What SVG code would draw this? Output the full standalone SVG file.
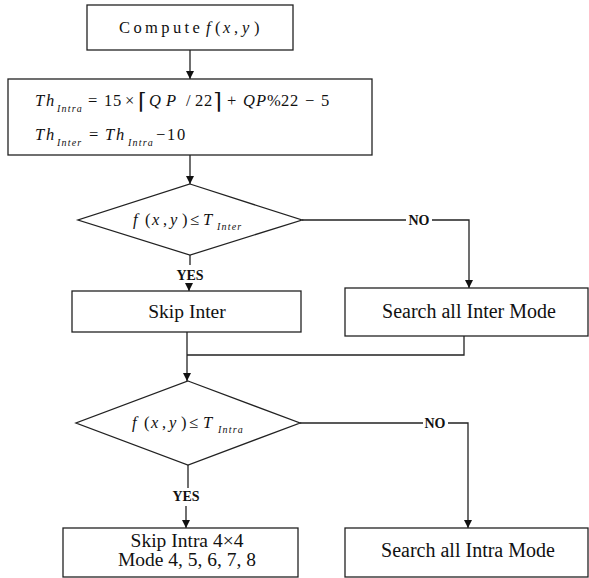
<svg xmlns="http://www.w3.org/2000/svg" width="589" height="578" viewBox="0 0 589 578">
<defs>
<marker id="ah" viewBox="0 0 10 10" refX="10" refY="5" markerWidth="8" markerHeight="8" markerUnits="userSpaceOnUse" orient="auto">
<path d="M0,0 L10,5 L0,10 z" fill="#111"/>
</marker>
<style>
.box{fill:#fff;stroke:#222;stroke-width:1.3}
.ln{fill:none;stroke:#222;stroke-width:1.3}
.t{font-family:"Liberation Serif","Times New Roman",serif;fill:#111}
.r{font-size:20px}
.r19{font-size:19.5px}
.m{font-size:16.5px;font-style:italic}
.mr{font-size:16.5px;font-style:normal}
.sub{font-size:10px;font-style:italic;letter-spacing:1.2px}
.lbl{font-size:14px;font-weight:bold}
.br{font-family:"DejaVu Serif",serif;font-size:22px;font-style:normal;font-weight:100}
</style>
</defs>
<rect width="589" height="578" fill="#fff"/>
<g id="connectors">
<line class="ln" x1="190" y1="50" x2="190" y2="79" marker-end="url(#ah)"/>
<line class="ln" x1="190" y1="155" x2="190" y2="184" marker-end="url(#ah)"/>
<line class="ln" x1="190" y1="255" x2="190" y2="265"/>
<line class="ln" x1="189" y1="283" x2="189" y2="291" marker-end="url(#ah)"/>
<polyline class="ln" points="302,220 406,220"/>
<polyline class="ln" points="432,220 469,220 469,288" marker-end="url(#ah)"/>
<line class="ln" x1="187" y1="332" x2="187" y2="355"/>
<polyline class="ln" points="464,336 464,355 187,355"/>
<line class="ln" x1="187" y1="355" x2="187" y2="381" marker-end="url(#ah)"/>
<line class="ln" x1="188" y1="465" x2="188" y2="488"/>
<line class="ln" x1="186" y1="506" x2="186" y2="528" marker-end="url(#ah)"/>
<polyline class="ln" points="300,423 423,423"/>
<polyline class="ln" points="448,423 468,423 468,528" marker-end="url(#ah)"/>
<text class="t lbl" x="419" y="225" text-anchor="middle">NO</text>
<text class="t lbl" x="435" y="428" text-anchor="middle">NO</text>
<text class="t lbl" x="190" y="280" text-anchor="middle">YES</text>
<text class="t lbl" x="186" y="501" text-anchor="middle">YES</text>
</g>
<g id="compute">
<rect class="box" x="87" y="5" width="206" height="45"/>
<text class="t" y="33"><tspan class="mr" x="119" letter-spacing="3.4" font-size="17">Compute</tspan><tspan class="m" x="206">f</tspan><tspan class="mr" x="215">(</tspan><tspan class="m" x="223">x</tspan><tspan class="mr" x="234">,</tspan><tspan class="m" x="242">y</tspan><tspan class="mr" x="254">)</tspan></text>
</g>
<g id="threshold">
<rect class="box" x="8" y="79" width="364" height="76"/>
<text class="t" y="106"><tspan class="m" x="35">T</tspan><tspan class="m" x="46">h</tspan><tspan class="sub" x="57" y="112">Intra</tspan><tspan class="mr" x="88" y="106">=</tspan><tspan class="mr" x="104">1</tspan><tspan class="mr" x="113">5</tspan><tspan class="mr" x="125">×</tspan><tspan class="br" x="138" y="109">⌈</tspan><tspan class="m" x="149" y="106">Q</tspan><tspan class="m" x="166">P</tspan><tspan class="mr" x="186">/</tspan><tspan class="mr" x="195">2</tspan><tspan class="mr" x="204">2</tspan><tspan class="br" x="213" y="109">⌉</tspan><tspan class="mr" x="227" y="106">+</tspan><tspan class="m" x="243">Q</tspan><tspan class="m" x="256">P</tspan><tspan class="mr" x="267">%</tspan><tspan class="mr" x="281">2</tspan><tspan class="mr" x="290">2</tspan><tspan class="mr" x="305">−</tspan><tspan class="mr" x="321">5</tspan></text>
<text class="t" y="140"><tspan class="m" x="35">T</tspan><tspan class="m" x="46">h</tspan><tspan class="sub" x="57" y="146">Inter</tspan><tspan class="mr" x="89" y="140">=</tspan><tspan class="m" x="105">T</tspan><tspan class="m" x="116">h</tspan><tspan class="sub" x="128" y="146">Intra</tspan><tspan class="mr" x="156" y="140">−</tspan><tspan class="mr" x="167">1</tspan><tspan class="mr" x="177">0</tspan></text>
</g>
<g id="decision-inter">
<polygon class="box" points="190,184 302,220 190,255 78,220"/>
<text class="t" y="225"><tspan class="m" x="133">f</tspan><tspan class="mr" x="145">(</tspan><tspan class="m" x="152">x</tspan><tspan class="mr" x="163">,</tspan><tspan class="m" x="170">y</tspan><tspan class="mr" x="182">)</tspan><tspan class="mr" x="190">≤</tspan><tspan class="m" x="203">T</tspan><tspan class="sub" x="217" y="230">Inter</tspan></text>
</g>
<g id="skip-inter">
<rect class="box" x="72" y="291" width="229" height="41"/>
<text class="t r19" x="187" y="318" text-anchor="middle">Skip Inter</text>
</g>
<g id="search-inter">
<rect class="box" x="345" y="288" width="243" height="48"/>
<text class="t r" x="469" y="318" text-anchor="middle">Search all Inter Mode</text>
</g>
<g id="decision-intra">
<polygon class="box" points="188,381 300,423 188,465 76,423"/>
<text class="t" y="428"><tspan class="m" x="132">f</tspan><tspan class="mr" x="144">(</tspan><tspan class="m" x="151">x</tspan><tspan class="mr" x="162">,</tspan><tspan class="m" x="169">y</tspan><tspan class="mr" x="181">)</tspan><tspan class="mr" x="189">≤</tspan><tspan class="m" x="203">T</tspan><tspan class="sub" x="218" y="433">Intra</tspan></text>
</g>
<g id="skip-intra">
<rect class="box" x="63" y="528" width="235" height="49"/>
<text class="t r19" x="187" y="547" text-anchor="middle">Skip Intra 4×4</text>
<text class="t r19" x="187" y="566" text-anchor="middle">Mode 4, 5, 6, 7, 8</text>
</g>
<g id="search-intra">
<rect class="box" x="345" y="528" width="243" height="49"/>
<text class="t r" x="468" y="557" text-anchor="middle">Search all Intra Mode</text>
</g>
</svg>
